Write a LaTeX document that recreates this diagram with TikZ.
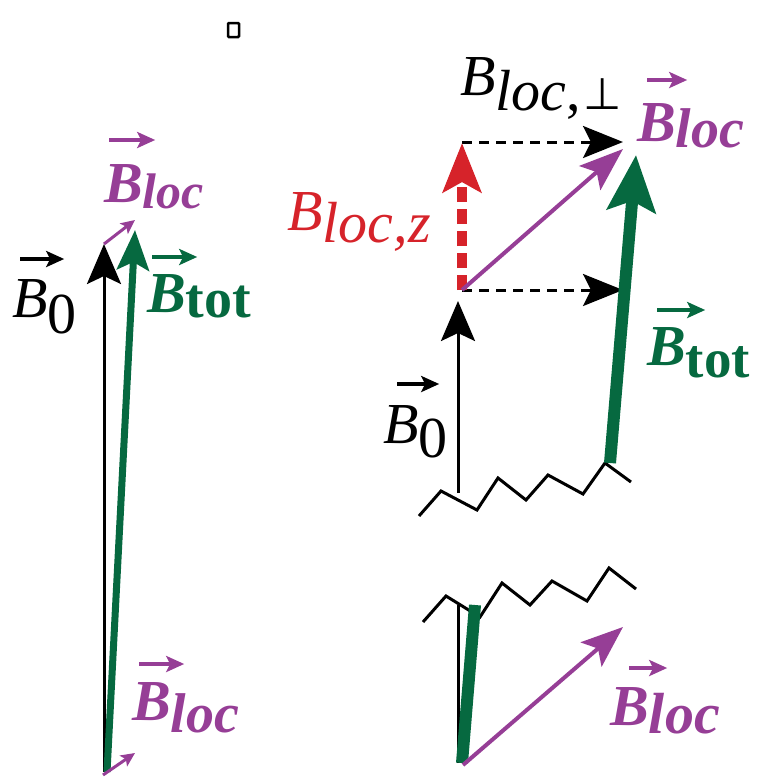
\documentclass[tikz,border=0pt]{standalone}
\usepackage{fontspec}
\setmainfont{Liberation Serif}
\newfontfamily\timesfont{Liberation Serif}
\newfontfamily\symbfont{DejaVu Sans}
\usetikzlibrary{arrows.meta}

\definecolor{totgreen}{RGB}{6,105,64}
\definecolor{locpurple}{RGB}{150,62,150}
\definecolor{zred}{RGB}{214,35,42}

% arrow over a vector symbol: colour, shift, length, height
\newcommand\ovec[4]{\rlap{\hspace{#2pt}\tikz[baseline=-#4pt]\draw[#1, line width=4pt, -{Stealth[length=18pt, width=16pt, inset=4pt]}] (0pt,0pt) -- (#3pt,0pt);}}

\tikzset{
  lab/.style={anchor=base west, inner sep=0pt, font=\timesfont\fontsize{58}{60}\selectfont},
  vec/.style={line width=3pt, -{Stealth[length=40pt, width=34pt, inset=8pt]}},
  zig/.style={line width=3pt},
}

\begin{document}
\begin{tikzpicture}[x=1pt, y=-1pt]
    \useasboundingbox (0,0) rectangle (757,780);

    % Small box at the top
    \draw[line width=2.5pt, rounded corners=1pt] (228,23) rectangle (239,37);

    % Left: B0, Btot and two small Bloc
    \coordinate (Lo) at (104,772);
    \coordinate (Lb0) at (104,244);
    \coordinate (Lo2) at (107,772);
    \coordinate (Ltot) at (135,230);
    \coordinate (Lloc) at (135,220);
    \coordinate (Lo3) at (103,775);
    \coordinate (Lloc2) at (135,753);

    \draw[vec] (Lo) -- (Lb0);
    \draw[totgreen, line width=7pt, -{Stealth[length=40pt, width=32pt, inset=8pt]}] (Lo2) -- (Ltot);
    \draw[locpurple, line width=3pt, -{Stealth[length=14pt, width=13pt, inset=3pt]}] (Lb0) -- (Lloc);
    \draw[locpurple, line width=3pt, -{Stealth[length=14pt, width=13pt, inset=3pt]}] (Lo3) -- (Lloc2);

    \node[lab] (b0left) at (12,317) {\ovec{black}{6}{44}{58}\textit{B}\raisebox{-16pt}{0}};
    \node[lab, text=locpurple] (loctop) at (104,202) {\ovec{locpurple}{3}{46}{62}\textbf{\textit{B}}\raisebox{-6pt}{\fontsize{50}{52}\selectfont\textbf{\textit{loc}}}};
    \node[lab, text=totgreen] (totleft) at (147,312) {\ovec{totgreen}{3}{45}{55}\textbf{\textit{B}}\raisebox{-5pt}{\fontsize{56}{58}\selectfont\textbf{tot}}};
    \node[lab, text=locpurple] (locbot) at (132,720) {\ovec{locpurple}{5}{45}{56}\textbf{\textit{B}}\raisebox{-12pt}{\fontsize{56}{58}\selectfont\textbf{\textit{loc}}}};

    % Right: B0 with Bloc split into z and perpendicular parts
    \coordinate (Ro) at (458,493);
    \coordinate (Rb0) at (458,301);
    \coordinate (Rz0) at (462,290);
    \coordinate (Rz) at (462,143);
    \coordinate (Rtop) at (462,142);
    \coordinate (Rloc) at (623,149);
    \coordinate (Rperp) at (623,142);
    \coordinate (Rperp0) at (623,290);
    \coordinate (Rto) at (610,463);
    \coordinate (Rtot) at (636,155);

    % Ragged edge
    \draw[zig] (419,516) -- (441,491) -- (477,510) -- (498,478) -- (526,500)
        -- (548,475) -- (583,494) -- (605,463) -- (631,482);

    \draw[vec] (Ro) -- (Rb0);
    \draw[line width=3pt, dash pattern=on 10pt off 7pt, -{Stealth[length=40pt, width=32pt, inset=8pt]}] (Rtop) -- (Rperp);
    \draw[line width=3pt, dash pattern=on 10pt off 7pt, -{Stealth[length=40pt, width=32pt, inset=8pt]}] (Rz0) -- (Rperp0);
    \draw[zred, line width=10pt, dash pattern=on 15pt off 7pt, -{Stealth[length=49pt, width=38pt, inset=10pt]}] (Rz0) -- (Rz);
    \draw[locpurple, line width=4pt, -{Stealth[length=44pt, width=32pt, inset=9pt]}] (Rz0) -- (Rloc);
    \draw[totgreen, line width=12pt, -{Stealth[length=56pt, width=48pt, inset=10pt]}] (Rto) -- (Rtot);

    \node[lab] (perp) at (460,95) {\textit{B}\raisebox{-15pt}{\textit{loc},\hspace{3pt}\raisebox{1pt}{\symbfont\fontsize{44}{46}\selectfont ⊥}}};
    \node[lab, text=locpurple] (locright) at (637,141) {\ovec{locpurple}{8}{40}{61}\textbf{\textit{B}}\raisebox{-6pt}{\fontsize{56}{58}\selectfont\textbf{\textit{loc}}}};
    \node[lab, text=zred] (locz) at (287,230) {\textit{B}\raisebox{-12pt}{\textit{loc,z}}};
    \node[lab] (b0right) at (383,443) {\ovec{black}{12}{42}{59}\textit{B}\raisebox{-14pt}{0}};
    \node[lab, text=totgreen] (totright) at (647,365) {\ovec{totgreen}{8}{48}{55}\textbf{\textit{B}}\raisebox{-12pt}{\fontsize{55}{57}\selectfont\textbf{tot}}};

    % Bottom right: ragged edge, B0, Btot and Bloc
    \coordinate (Bo) at (458,763);
    \coordinate (Bb0) at (458,605);
    \coordinate (Bo2) at (462,763);
    \coordinate (Btot) at (475,605);
    \coordinate (Bo3) at (463,765);
    \coordinate (Bloc) at (623,627);

    \draw[zig] (423,622) -- (446,596) -- (480,617) -- (502,583) -- (530,605)
        -- (552,581) -- (587,601) -- (609,568) -- (636,589);

    \draw[line width=3pt] (Bo) -- (Bb0);
    \draw[totgreen, line width=12pt] (Bo2) -- (Btot);
    \draw[locpurple, line width=4pt, -{Stealth[length=42pt, width=32pt, inset=9pt]}] (Bo3) -- (Bloc);

    \node[lab, text=locpurple] (locbr) at (610,725) {\ovec{locpurple}{17}{38}{57}\textbf{\textit{B}}\raisebox{-8pt}{\fontsize{58}{60}\selectfont\textbf{\textit{loc}}}};
\end{tikzpicture}
\end{document}
